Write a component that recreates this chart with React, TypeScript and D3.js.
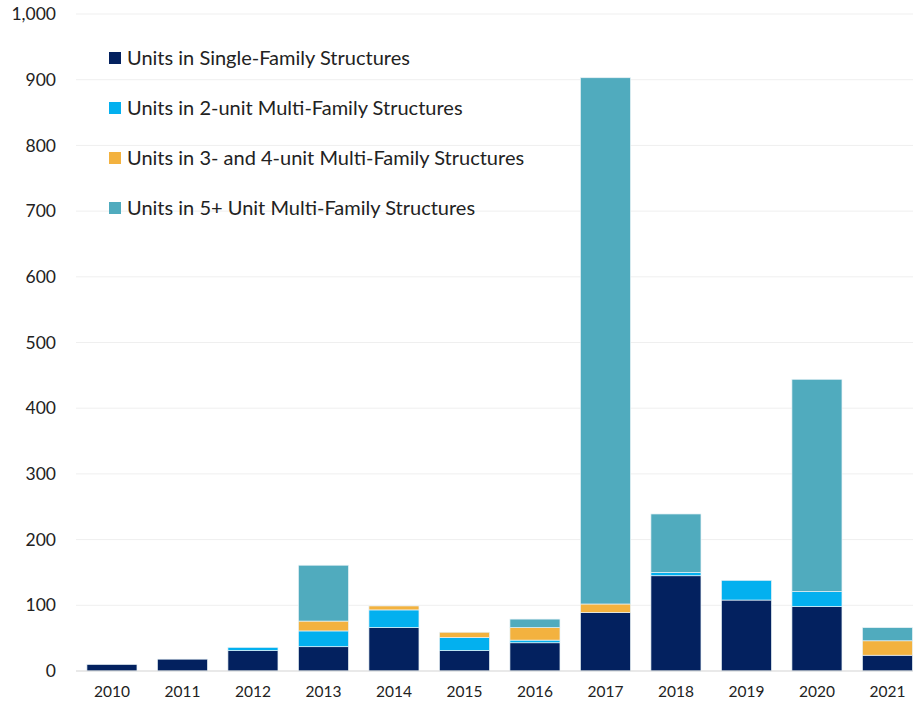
import React, { useEffect, useRef } from "react";
import * as d3 from "d3";

const years = ["2010","2011","2012","2013","2014","2015","2016","2017","2018","2019","2020","2021"];
const singleFamily = [10, 18, 31, 37, 66, 31, 43, 89, 145, 108, 98, 24];
const twoUnit = [0, 0, 5, 24, 27, 20, 4, 0, 5, 30, 23, 0];
const threeFourUnit = [0, 0, 0, 15, 6, 8, 19, 13, 0, 0, 0, 22];
const fivePlusUnit = [0, 0, 0, 85, 0, 0, 13, 801, 89, 0, 323, 20];
const seriesNames = [
  "Units in Single-Family Structures",
  "Units in 2-unit Multi-Family Structures",
  "Units in 3- and 4-unit Multi-Family Structures",
  "Units in 5+ Unit Multi-Family Structures",
];
const seriesColors = ["#03215f", "#03b0ef", "#f3b23f", "#50abbe"];
const yTicks = [0, 100, 200, 300, 400, 500, 600, 700, 800, 900, 1000];

const W = 913, H = 705;
const FONT = "Lato, 'Noto Sans', sans-serif";

export default function App() {
  const ref = useRef<SVGSVGElement>(null);
  useEffect(() => {
    const svg = d3.select(ref.current);
    svg.selectAll("*").remove();
    const x = d3.scaleBand<string>().domain(years).range([76.7, 922.7]).paddingInner(0.29).paddingOuter(0.145);
    const y = d3.scaleLinear().domain([0, 1000]).range([671, 14]);

    const table = years.map((yr, i) => ({
      year: yr, s0: singleFamily[i], s1: twoUnit[i], s2: threeFourUnit[i], s3: fivePlusUnit[i],
    }));
    const stack = d3.stack<any>().keys(["s0", "s1", "s2", "s3"]);
    const layers = stack(table);

    // gridlines
    const g = svg.append("g");
    g.selectAll("line.grid").data(yTicks.filter(t => t > 0)).join("line")
      .attr("x1", 76).attr("x2", W).attr("y1", d => y(d)).attr("y2", d => y(d))
      .attr("stroke", "#efefef").attr("stroke-width", 1);

    // y labels
    g.selectAll("text.ytick").data(yTicks).join("text")
      .attr("x", 56).attr("y", d => y(d)).attr("dy", "0.35em")
      .attr("text-anchor", "end").attr("font-family", FONT).attr("font-size", 17.5)
      .attr("fill", "#222").text(d => d3.format(",")(d));

    // bars
    layers.forEach((layer, li) => {
      svg.append("g").selectAll("rect").data(layer.filter(d => d[1] - d[0] > 0)).join("rect")
        .attr("x", d => x(d.data.year)!).attr("width", x.bandwidth())
        .attr("y", d => y(d[1])).attr("height", d => y(d[0]) - y(d[1]))
        .attr("fill", seriesColors[li]).attr("stroke", "#e8f2f6").attr("stroke-width", 0.7);
    });

    // axis line
    svg.append("line").attr("x1", 76).attr("x2", W).attr("y1", y(0)).attr("y2", y(0))
      .attr("stroke", "#d4d4d4").attr("stroke-width", 1.2);

    // x labels
    svg.append("g").selectAll("text").data(years).join("text")
      .attr("x", d => x(d)! + x.bandwidth() / 2).attr("y", 697)
      .attr("text-anchor", "middle").attr("font-family", FONT).attr("font-size", 15.5)
      .attr("fill", "#222").text(d => d);

    // legend
    const lg = svg.append("g");
    seriesNames.forEach((name, i) => {
      const cy = 58 + i * 50;
      lg.append("rect").attr("x", 109).attr("y", cy - 6).attr("width", 12).attr("height", 12)
        .attr("fill", seriesColors[i]);
      lg.append("text").attr("x", 127).attr("y", cy).attr("dy", "0.35em")
        .attr("font-family", FONT).attr("font-size", 20).attr("fill", "#222").text(name);
    });
  }, []);
  return (
    <div style={{ position: "absolute", left: 0, top: 0 }}>
      <svg ref={ref} width={W} height={H} style={{ display: "block", background: "#fff" }} />
    </div>
  );
}
